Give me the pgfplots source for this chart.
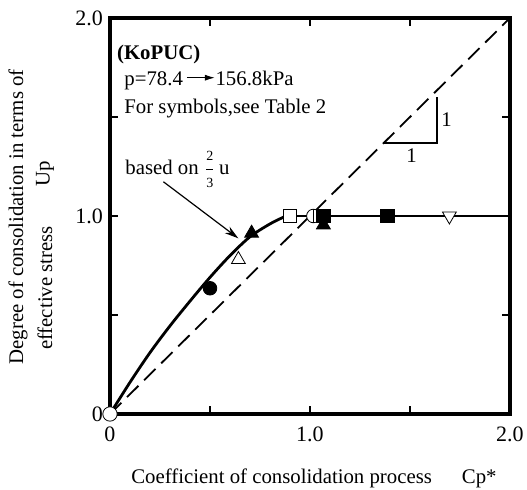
\documentclass[border=0pt]{standalone}
\usepackage{fontspec}
\setmainfont{Liberation Serif}
\usepackage{pgfplots}
\pgfplotsset{compat=1.18}
\usetikzlibrary{arrows.meta}
\newcommand\ft{\fontsize{10.4}{12}\selectfont}
\newcommand\fr{\fontsize{7}{8}\selectfont}

\begin{document}
\begin{tikzpicture}
\useasboundingbox (-55pt,-38pt) rectangle (208.5pt,207pt);
\begin{axis}[
  scale only axis, width=200pt, height=198pt,
  at={(0,0)}, anchor=south west,
  xmin=0, xmax=2, ymin=0, ymax=2,
  xtick={0,0.5,1,1.5,2}, xticklabels={0,,1.0,,2.0},
  ytick={0,0.5,1,1.5,2}, yticklabels={0,,1.0,,2.0},
  tick align=inside, major tick length=4pt,
  axis line style={line width=1.6pt},
  every tick/.style={line width=1pt, black},
  tick label style={font=\fontsize{11}{13}\selectfont},
  xticklabel style={yshift=-3pt},
  /pgf/number format/assume math mode=true,
  clip=false,
]
% 45 degree reference line
\addplot[line width=0.9pt, dash pattern=on 8pt off 4pt] coordinates {(0,0) (2,2)};
% curve based on 2/3 u
\addplot[line width=1.4pt, smooth, tension=0.5] coordinates {
  (0,0) (0.1,0.16) (0.2,0.31) (0.3,0.445) (0.4,0.57) (0.5,0.69)
  (0.6,0.80) (0.7,0.895) (0.8,0.96) (0.88,1.0)};
\addplot[line width=1.4pt] coordinates {(0.88,1) (2,1)};

% symbols
\addplot[only marks, mark=*, mark size=3.4pt, black] coordinates {(0.5,0.635)};
\addplot[only marks, mark=triangle*, mark size=4pt, black, mark options={fill=white}] coordinates {(0.642,0.78)};
\addplot[only marks, mark=triangle*, mark size=4pt, black] coordinates {(0.708,0.913) (1.067,0.955)};
\addplot[only marks, mark=square*, mark size=3.4pt, black, mark options={fill=white}] coordinates {(0.9,1.0)};
\addplot[only marks, mark=*, mark size=3.4pt, black, mark options={fill=white}] coordinates {(1.017,1.0)};
\addplot[only marks, mark=|, mark size=3.4pt, black] coordinates {(1.017,1.0)};
\addplot[only marks, mark=square*, mark size=3.4pt, black] coordinates {(1.067,1.0) (1.388,1.0)};
\addplot[only marks, mark=triangle*, mark size=4pt, black, mark options={fill=white, rotate=180}] coordinates {(1.697,1.0)};
\addplot[only marks, mark=*, mark size=3.6pt, black, mark options={fill=white}] coordinates {(0,0)};

% slope triangle
\draw[line width=1pt] (axis cs:1.37,1.37) -- (axis cs:1.635,1.37) -- (axis cs:1.635,1.60);
\node[font=\ft] at (axis cs:1.683,1.485) {1};
\node[font=\ft] at (axis cs:1.508,1.305) {1};

% annotations
\node[anchor=base west, inner sep=0pt, font=\ft\bfseries] at (axis cs:0.0335,1.788) {(KoPUC)};
\node[anchor=base west, inner sep=0pt, font=\ft] at (axis cs:0.07,1.657)
  {p=78.4\,\raisebox{2.6pt}{\tikz\draw[line width=0.6pt, -{Latex[length=5pt,width=3pt]}] (0,0) -- (14pt,0);}156.8kPa};
\node[anchor=base west, inner sep=0pt, font=\ft] at (axis cs:0.07,1.519) {For symbols,see Table 2};
\node[anchor=base west, inner sep=0pt, font=\ft] at (axis cs:0.075,1.212)
  {based on $\displaystyle\frac{\mbox{\fr 2}}{\mbox{\fr 3}}$\,u};
\draw[line width=0.6pt, -{Stealth[length=7pt,width=4pt]}] (axis cs:0.267,1.173) -- (axis cs:0.642,0.887);

% axis titles
\node[rotate=90, font=\ft] at (rel axis cs:-0.23,0.4975) {Degree of consolidation in terms of};
\node[rotate=90, font=\ft] at (rel axis cs:-0.1625,0.318) {effective stress};
\node[rotate=90, font=\ft] at (rel axis cs:-0.1625,0.606) {Up};
\node[font=\ft] at (rel axis cs:0.51,-0.163) {Coefficient of consolidation process\hspace{15pt}Cp*};
\end{axis}
\end{tikzpicture}
\end{document}
